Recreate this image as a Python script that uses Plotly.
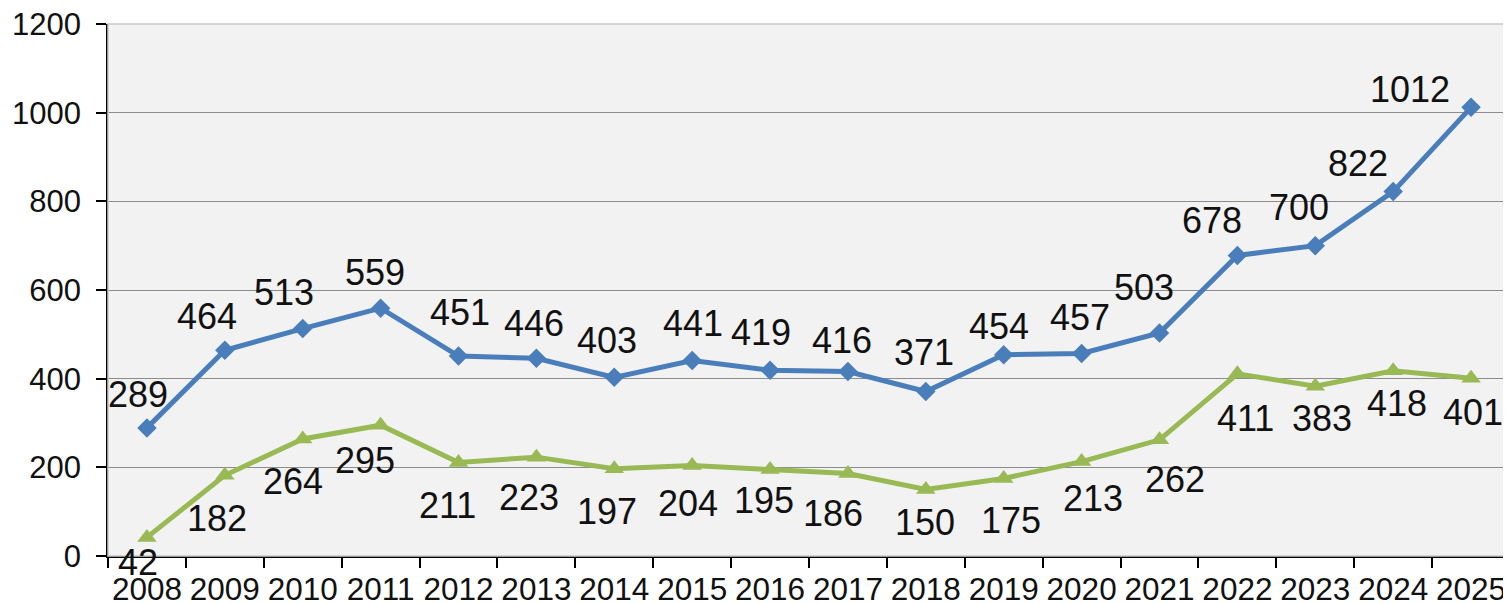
import plotly.graph_objects as go

years = [str(y) for y in range(2008, 2026)]
series_a = [289, 464, 513, 559, 451, 446, 403, 441, 419, 416, 371, 454, 457, 503, 678, 700, 822, 1012]
series_b = [42, 182, 264, 295, 211, 223, 197, 204, 195, 186, 150, 175, 213, 262, 411, 383, 418, 401]
y_ticks = [0, 200, 400, 600, 800, 1000, 1200]

# label offsets in pixels (style only)
a_dx = [-9, -18, -19, -6, 1, -2, -7, 1, -9, -6, -2, -5, -2, -16, -25, -16, -35, -61]
a_dy = [33, 34, 36, 36, 44, 35, 37, 37, 38, 31, 39, 28, 36, 46, 35, 38, 28, 18]
b_dx = [-9, -8, -10, -16, -11, -7, -7, -4, -6, -15, -1, 7, 11, 15, 8, 7, 4, 2]
b_dy = [-25, -43, -43, -35, -43, -40, -43, -38, -31, -40, -33, -42, -37, -40, -45, -32, -33, -34]

BLUE = "#4A7EBB"
GREEN = "#98B954"
FONT = "Liberation Sans, Arial, sans-serif"

fig = go.Figure()
fig.add_trace(go.Scatter(x=years, y=series_a, mode="lines+markers",
                         line=dict(color=BLUE, width=5),
                         marker=dict(symbol="diamond", size=15, color=BLUE),
                         showlegend=False, hoverinfo="skip"))
fig.add_trace(go.Scatter(x=years, y=series_b, mode="lines+markers",
                         line=dict(color=GREEN, width=5),
                         marker=dict(symbol="triangle-up", size=17, color=GREEN),
                         showlegend=False, hoverinfo="skip"))

anns = []
for i, yr in enumerate(years):
    anns.append(dict(x=i, y=series_a[i], text=str(series_a[i]), showarrow=False,
                     xanchor="center", yanchor="middle", xshift=a_dx[i], yshift=a_dy[i],
                     font=dict(family=FONT, size=36, color="#111111")))
    anns.append(dict(x=i, y=series_b[i], text=str(series_b[i]), showarrow=False,
                     xanchor="center", yanchor="middle", xshift=b_dx[i], yshift=b_dy[i],
                     font=dict(family=FONT, size=36, color="#111111")))

fig.update_layout(
    width=1503, height=596,
    margin=dict(l=100, r=1, t=16, b=48),
    paper_bgcolor="white", plot_bgcolor="#F2F2F2",
    annotations=anns,
    font=dict(family=FONT, color="#111111"),
    shapes=[dict(type="rect", xref="paper", yref="paper", x0=0, x1=1, y0=0, y1=1,
                 line=dict(color="#C8C8C8", width=1.5), layer="above")],
)
fig.update_xaxes(type="category", tickson="boundaries", ticks="outside", ticklen=10,
                 tickcolor="black", tickwidth=1.5, showline=True, linecolor="black", linewidth=1.5,
                 showgrid=False, tickfont=dict(family=FONT, size=31.5, color="#111111"),
                 tickangle=0, automargin=False, ticklabeloverflow="allow",
                 ticklabelstandoff=4, range=[-0.5, 17.5])
fig.update_yaxes(range=[0, 1200], tickvals=y_ticks, ticks="outside", ticklen=10,
                 tickcolor="black", tickwidth=1.5, showline=True, linecolor="black", linewidth=1.5,
                 showgrid=True, gridcolor="#8C8C8C", gridwidth=1.2, zeroline=False, automargin=False,
                 ticklabeloverflow="allow",
                 tickfont=dict(family=FONT, size=31, color="#111111"), ticklabelstandoff=9)

fig.write_html("out.html")
